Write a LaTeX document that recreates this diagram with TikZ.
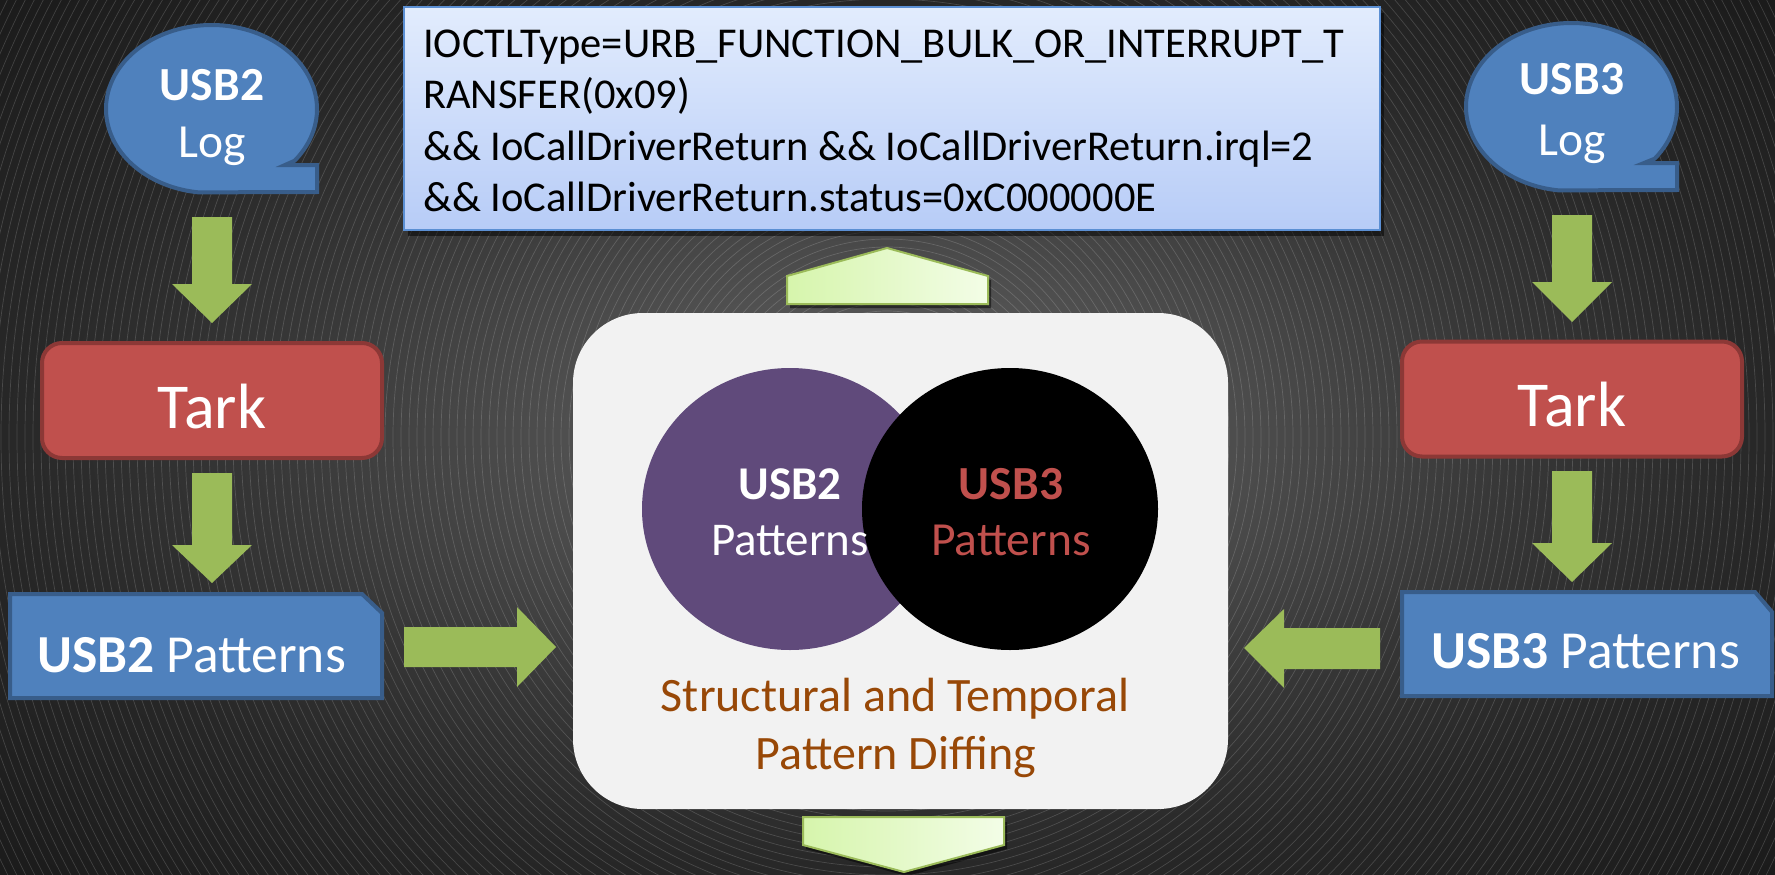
\documentclass[tikz,border=0pt]{standalone}
\usepackage{fontspec}
\setmainfont{Carlito}
\definecolor{blueF}{HTML}{4F81BD}
\definecolor{blueB}{HTML}{385D8A}
\definecolor{redF}{HTML}{C0504D}
\definecolor{redB}{HTML}{8C3836}
\definecolor{grn}{HTML}{9BBB59}
\definecolor{lgL}{HTML}{D6F5AC}
\definecolor{lgR}{HTML}{F3FDE7}
\definecolor{qtop}{HTML}{E2ECFD}
\definecolor{qbot}{HTML}{B7CCF7}
\definecolor{qbor}{HTML}{5B8FD3}
\definecolor{purp}{HTML}{604A7B}
\definecolor{brn}{HTML}{984807}
\definecolor{panelc}{HTML}{F2F2F2}
\definecolor{bgA}{HTML}{656565}
\definecolor{bgB}{HTML}{4F4F4F}
\definecolor{bgC}{HTML}{363636}
\definecolor{bgD}{HTML}{272727}
\definecolor{bgE}{HTML}{1A1A1A}
\pgfdeclareradialshading{bgshade}{\pgfpoint{0bp}{0bp}}{color(0bp)=(bgA); color(9bp)=(bgB); color(18bp)=(bgC); color(25bp)=(bgD); color(36bp)=(bgE); color(50bp)=(bgE)}
\newcommand{\fsz}[1]{\fontsize{#1}{#1}\selectfont}
\begin{document}
\begin{tikzpicture}[x=1pt,y=-1pt,
  bubble/.style={fill=blueF, draw=blueB, line width=4pt},
  tarkbox/.style={fill=redF, draw=redB, line width=4pt, rounded corners=20pt, minimum width=340pt, minimum height=115pt, inner sep=0pt},
  pbox/.style={fill=blueF, draw=blueB, line width=4pt},
  garrow/.style={fill=grn},
  pent/.style={left color=lgL, right color=lgR, draw=grn, line width=2pt},
  shad/.style={fill=black, opacity=0.5},
  wtxt/.style={anchor=base, text=white, inner sep=0pt},
  qtxt/.style={anchor=base west, text=black, inner sep=0pt, font=\fsz{42.5}},
]
\useasboundingbox (0,0) rectangle (1775,875);
\fill[shading=bgshade] (0,0) rectangle (1775,875);
\begin{scope}
  \clip (0,0) rectangle (1775,875);
  \foreach \r in {6,14,...,1000}
    \draw[white, opacity=0.16, line width=0.7pt] (887,437) circle[radius={\r*1pt}];
\end{scope}

% ---- top query box
\fill[shad] (408,13) rectangle (1384,236);
\node[draw=qbor, line width=2pt, top color=qtop, bottom color=qbot, minimum width=976pt, minimum height=223pt, inner sep=0pt] (qbox) at (892,118.5) {};
\node[qtxt] (q1) at (423,58) {IOCTLType=URB\_FUNCTION\_BULK\_OR\_INTERRUPT\_T};
\node[qtxt] (q2) at (423,108) {RANSFER(0x09)};
\node[qtxt] (q3) at (423,160) {\&\& IoCallDriverReturn \&\& IoCallDriverReturn.irql=2};
\node[qtxt] (q4) at (423,211) {\&\& IoCallDriverReturn.status=0xC000000E};

% ---- up pentagon
\fill[shad] (790,280) -- (890,252) -- (991,280) -- (991,308) -- (790,308) -- cycle;
\draw[pent] (787,304) -- (787,276) -- (887,248) -- (988,276) -- (988,304) -- cycle;

% ---- central panel
\node[fill=panelc, rounded corners=70pt, minimum width=655pt, minimum height=496pt, inner sep=0pt] (panel) at (900.5,561) {};
\fill[purp] (790,509) ellipse[x radius=148pt, y radius=141pt];
\fill[black] (1010,509) ellipse[x radius=148pt, y radius=141pt];
\node[wtxt, font=\fsz{47}\bfseries] (v2a) at (790,499) {USB2};
\node[wtxt, font=\fsz{47}] (v2b) at (790,555) {Patterns};
\node[wtxt, text=redF, font=\fsz{47.5}\bfseries] (v3a) at (1011,499) {USB3};
\node[wtxt, text=redF, font=\fsz{47.5}] (v3b) at (1011,555) {Patterns};
\node[wtxt, text=brn, font=\fsz{48}] (d1) at (895,711) {Structural and Temporal};
\node[wtxt, text=brn, font=\fsz{48}] (d2) at (896,769) {Pattern Diffing};

% ---- down pentagon
\fill[shad] (806,849) -- (907,876) -- (1007,849) -- (1007,822) -- (806,822) -- cycle;
\draw[pent] (803,817) -- (1004,817) -- (1004,845) -- (904,872) -- (803,845) -- cycle;

% ---- left column
\draw[bubble] (211.5,109) ++(-38:105.5pt and 84pt) arc[start angle=-38, end angle=263, x radius=105.5pt, y radius=84pt] -- (317,192) -- (317,165) -- (285,165) -- cycle;
\node[wtxt, font=\fsz{47.5}\bfseries] (l2a) at (212,100) {USB2};
\node[wtxt, font=\fsz{47.5}] (l2b) at (212,157) {Log};
\fill[garrow] (192,217) -- (232,217) -- (232,284) -- (252,284) -- (212,323) -- (172,284) -- (192,284) -- cycle;
\node[tarkbox] (tarkL) at (212,400.5) {};
\node[wtxt, font=\fsz{64}] (tarkLt) at (212,428) {Tark};
\fill[garrow] (192,473) -- (232,473) -- (232,545) -- (252,545) -- (212,583) -- (172,545) -- (192,545) -- cycle;
\draw[pbox] (10,594) -- (362,594) -- (382,613) -- (382,698) -- (10,698) -- cycle;
\node[anchor=base west, text=white, inner sep=0pt, font=\fsz{53.5}] (p2) at (37,672) {\textbf{USB2} Patterns};
\fill[garrow] (404,627) -- (517,627) -- (517,607) -- (556,647) -- (517,687) -- (517,667) -- (404,667) -- cycle;

% ---- right column
\begin{scope}[shift={(1360,-2)}]
\draw[bubble] (211.5,109) ++(-38:105.5pt and 84pt) arc[start angle=-38, end angle=263, x radius=105.5pt, y radius=84pt] -- (317,192) -- (317,165) -- (284,165) -- cycle;
\end{scope}
\node[wtxt, font=\fsz{47.5}\bfseries] (l3a) at (1572,95) {USB3};
\node[wtxt, font=\fsz{47.5}] (l3b) at (1572,155) {Log};
\fill[garrow] (1552,215) -- (1592,215) -- (1592,282) -- (1612,282) -- (1572,322) -- (1532,282) -- (1552,282) -- cycle;
\node[tarkbox] (tarkR) at (1572,399) {};
\node[wtxt, font=\fsz{64}] (tarkRt) at (1572,426) {Tark};
\fill[garrow] (1552,471) -- (1592,471) -- (1592,543) -- (1612,543) -- (1572,582) -- (1532,543) -- (1552,543) -- cycle;
\draw[pbox] (1402,592) -- (1755,592) -- (1772,612) -- (1772,696) -- (1402,696) -- cycle;
\node[anchor=base west, text=white, inner sep=0pt, font=\fsz{53.5}] (p3) at (1431,668) {\textbf{USB3} Patterns};
\fill[garrow] (1380,628) -- (1284,628) -- (1284,609) -- (1244,648) -- (1284,688) -- (1284,669) -- (1380,669) -- cycle;
\end{tikzpicture}
\end{document}
